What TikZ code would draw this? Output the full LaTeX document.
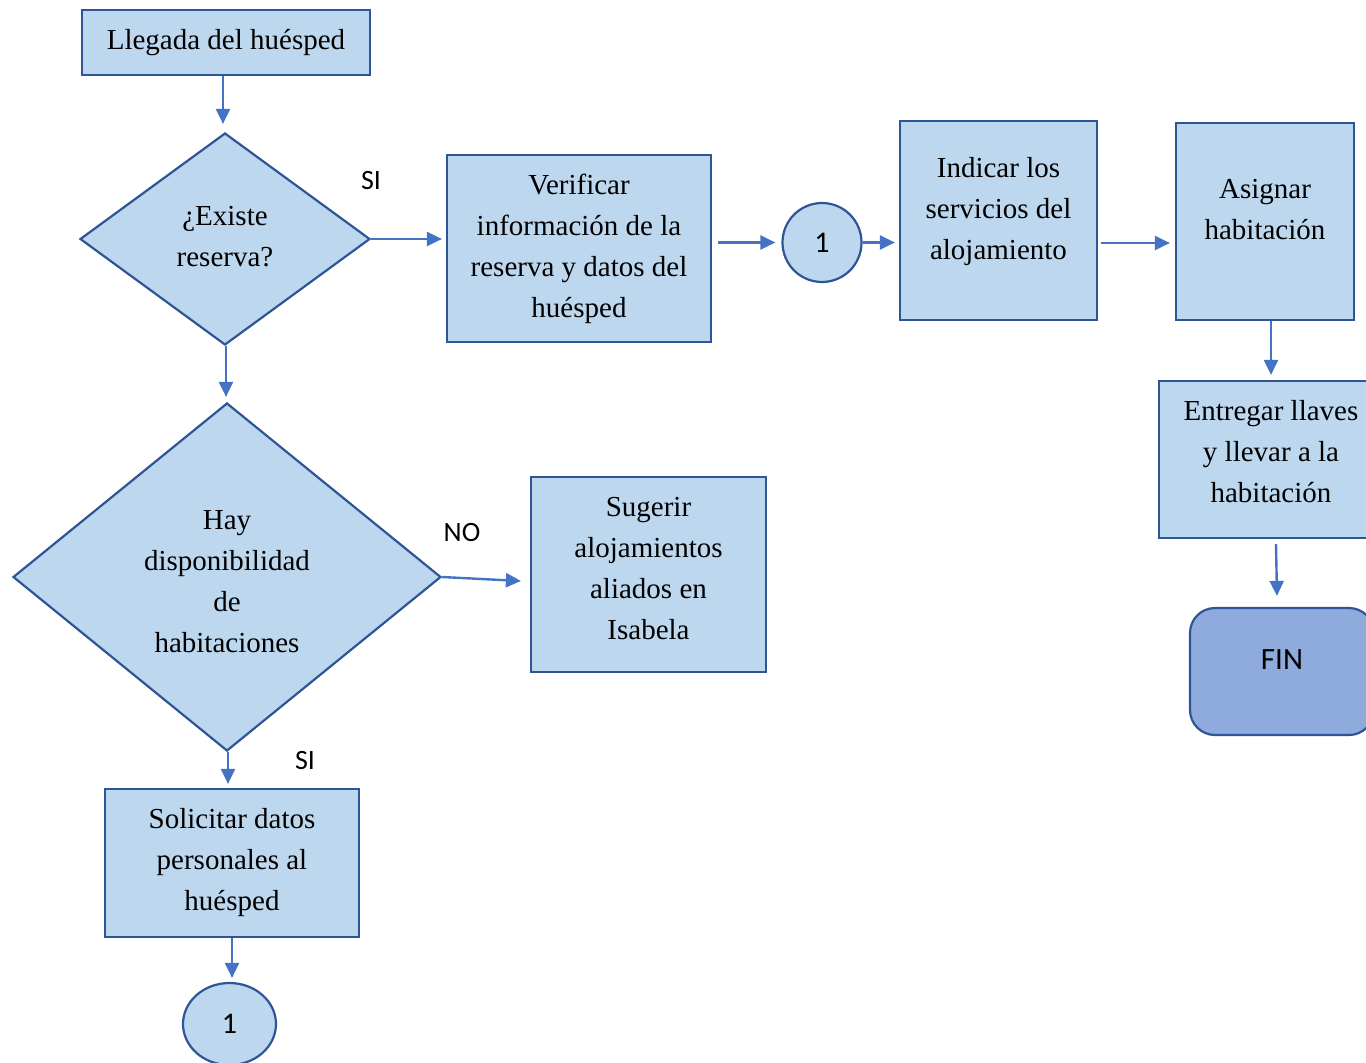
\documentclass[tikz,border=0pt]{standalone}
\usepackage{fontspec}
\setmainfont{Liberation Serif}
\newfontfamily\lblfont{Carlito}
\usetikzlibrary{shapes.geometric,arrows.meta,calc}
\definecolor{boxfill}{HTML}{BDD7EE}
\definecolor{boxline}{HTML}{2F5597}
\definecolor{arrcol}{HTML}{4472C4}
\definecolor{finfill}{HTML}{8FAADC}
\begin{document}
\begin{tikzpicture}[x=1pt,y=-1pt,
  box/.style={draw=boxline,fill=boxfill,line width=2.2pt,inner sep=0pt,align=center,
    font=\fontsize{29}{41}\selectfont},
  txt/.style={inner sep=0pt,align=center,font=\fontsize{29}{41}\selectfont},
  dec/.style={box,shape=diamond},
  conn/.style={box,shape=ellipse,font=\lblfont\fontsize{30}{34}\selectfont},
  lbl/.style={inner sep=0pt,font=\lblfont\fontsize{28}{32}\selectfont},
  arr/.style={draw=arrcol,line width=2.4pt,-{Triangle[length=15pt,width=14pt]}}]
\useasboundingbox (0,0) rectangle (1366,1063);
\fill[white] (0,0) rectangle (1366,1063);

\node[box,minimum width=288,minimum height=65] (llegada) at (226,42.5) {Llegada del huésped};
\node[dec,minimum width=290,minimum height=212,
  label={[txt,yshift=2pt]center:{¿Existe\\reserva?}}] (d1) at (225,239) {};
\node[box,minimum width=264,minimum height=187] (verif) at (579,248.5)
  {Verificar\\información de la\\reserva y datos del\\huésped};
\node[conn,minimum width=79,minimum height=79] (c1) at (822,242.5) {1};
\node[box,minimum width=197,minimum height=199,
  label={[txt,yshift=9pt]center:{Indicar los\\servicios del\\alojamiento}}] (indicar) at (998.5,220.5) {};
\node[box,minimum width=178,minimum height=197,
  label={[txt,yshift=12pt]center:{Asignar\\habitación}}] (asignar) at (1265,221.5) {};
\node[box,minimum width=224,minimum height=157,
  label={[txt,yshift=8pt]center:{Entregar llaves\\y llevar a la\\habitación}}] (entregar) at (1271,459.5) {};
\node[draw=boxline,fill=finfill,line width=2.2pt,rounded corners=25pt,inner sep=0pt,
  minimum width=184,minimum height=127,
  label={[lbl,yshift=12pt,font=\lblfont\fontsize{31}{36}\selectfont]center:FIN}] (fin) at (1282,671.5) {};
\node[dec,minimum width=428,minimum height=348,
  label={[txt,yshift=-5pt]center:{Hay\\disponibilidad\\de\\habitaciones}}] (d2) at (227,577) {};
\node[box,minimum width=235,minimum height=195,
  label={[txt,yshift=6pt]center:{Sugerir\\alojamientos\\aliados en\\Isabela}}] (sugerir) at (648.5,574.5) {};
\node[box,minimum width=254,minimum height=148] (solicitar) at (232,863)
  {Solicitar datos\\personales al\\huésped};
\node[conn,minimum width=93,minimum height=82] (c2) at (229.5,1024) {1};

\node[lbl] (si1) at (371,181) {SI};
\node[lbl] (no) at (462,533) {NO};
\node[lbl] (si2) at (305,761) {SI};

\draw[arr] ($(llegada.south)+(-3,0)$) -- ($(llegada.south |- d1.north)+(-3,-8)$);
\draw[arr] (d1.east) -- ($(d1.east -| verif.west)+(-4,0)$);
\draw[arr] ($(verif.east |- c1.west)+(6,0)$) -- ($(c1.west)+(-6,0)$);
\draw[arr] (c1.east) -- ($(c1.east -| indicar.west)+(-4,0)$);
\draw[arr] ($(indicar.east)+(3,22.5)$) -- ($(asignar.west)+(-5,21.5)$);
\draw[arr] (asignar.south -| entregar.north) -- ($(entregar.north)+(0,-5)$);
\draw[arr] ($(entregar.south)+(5,5)$) -- ($(fin.north)+(-5,-11)$);
\draw[arr] ($(d1.south)+(1,0)$) -- ($(d1.south |- d2.north)+(1,-5)$);
\draw[arr] (d2.east) -- ($(sugerir.west)+(-9,6.5)$);
\draw[arr] ($(d2.south)+(1,0)$) -- ($(d2.south |- solicitar.north)+(1,-4)$);
\draw[arr] (solicitar.south) -- ($(solicitar.south |- c2.north)+(0,-4)$);
\end{tikzpicture}
\end{document}
